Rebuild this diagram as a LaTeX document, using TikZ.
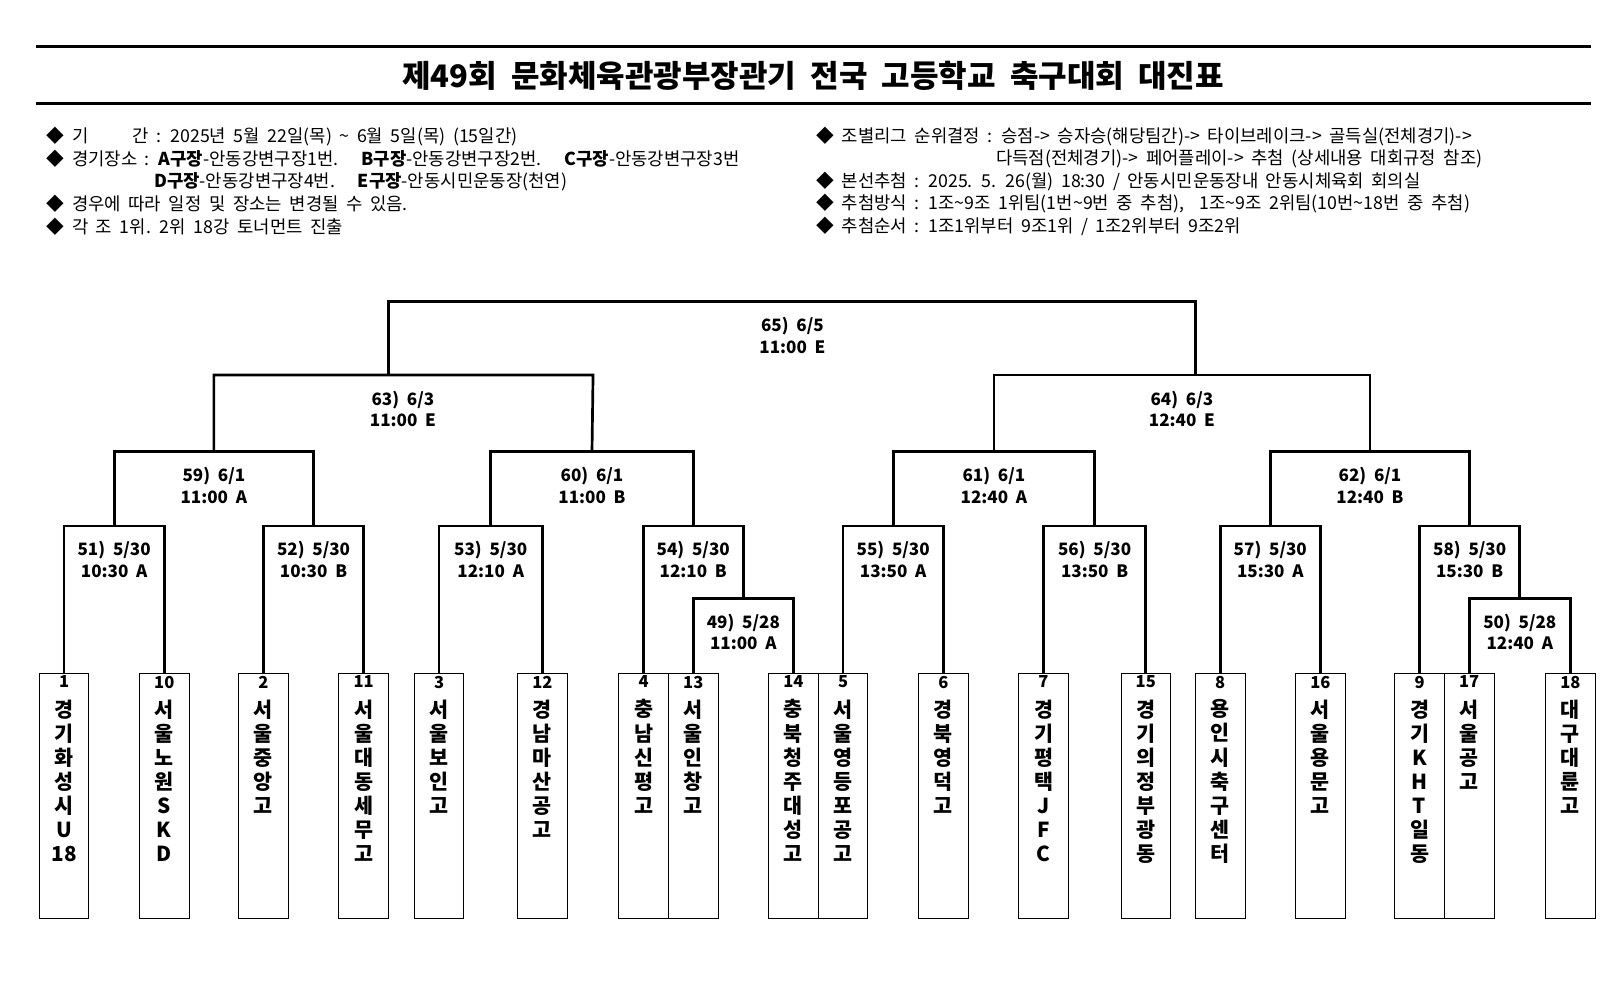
\documentclass[tikz,border=0pt]{standalone}
\usepackage{fontspec}
\setmainfont{Noto Sans CJK KR}
\newfontfamily\infofont[WordSpace=1.9]{Noto Sans CJK KR}
\begin{document}
\begin{tikzpicture}[x=1pt,y=-1pt,
  team/.style={draw,line width=0.8pt,minimum width=48pt,minimum height=238pt,anchor=north,inner sep=0pt},
  num/.style={anchor=north,font=\fontsize{16}{16}\selectfont\bfseries,inner sep=0pt},
  tname/.style={anchor=north,font=\fontsize{20}{23.3}\selectfont\bfseries,align=center,inner sep=0pt},
  br/.style={line width=2.6pt},
  lab/.style={font=\fontsize{16.5}{21}\selectfont\bfseries,align=center,anchor=north,inner sep=0pt},
  info/.style={anchor=west,font=\infofont\fontsize{17.2}{16}\selectfont,inner sep=0pt}]
\useasboundingbox (0,0) rectangle (1568,952);
\fill[white] (0,0) rectangle (1568,952);
% title
\coordinate (tl1) at (35,45); \coordinate (tr1) at (1540,45);
\coordinate (tl2) at (35,100); \coordinate (tr2) at (1540,100);
\draw[line width=2.8pt] (tl1) -- (tr1);
\draw[line width=2.8pt] (tl2) -- (tr2);
\node[font=\fontsize{30}{30}\selectfont\bfseries] (title) at (787,73) {제49회 \ 문화체육관광부장관기 \ 전국 \ 고등학교 \ 축구대회 \ 대진표};
% info
\node[info] (i1) at (45,132) {◆ 기\hspace{2.5em}간 : 2025년 5월 22일(목) \textasciitilde{} 6월 5일(목) (15일간)};
\node[info] (i2) at (45,154) {◆ 경기장소 : \textbf{A구장}-안동강변구장1번.\ \ \ \textbf{B구장}-안동강변구장2번.\ \ \ \textbf{C구장}-안동강변구장3번};
\node[info] (i3) at (149,176) {\textbf{D구장}-안동강변구장4번.\ \ \ \textbf{E구장}-안동시민운동장(천연)};
\node[info] (i4) at (45,197) {◆ 경우에 따라 일정 및 장소는 변경될 수 있음.};
\node[info] (i5) at (45,219) {◆ 각 조 1위. 2위 18강 토너먼트 진출};
\node[info] (j1) at (790,132) {◆ 조별리그 순위결정 : 승점-> 승자승(해당팀간)-> 타이브레이크-> 골득실(전체경기)->};
\node[info] (j2) at (964,154) {다득점(전체경기)-> 페어플레이-> 추첨 (상세내용 대회규정 참조)};
\node[info] (j3) at (790,176) {◆ 본선추첨 : 2025. 5. 26(월) 18:30 / 안동시민운동장내 안동시체육회 회의실};
\node[info] (j4) at (790,197) {◆ 추첨방식 : 1조\textasciitilde9조 1위팀(1번\textasciitilde9번 중 추첨),\ \ 1조\textasciitilde9조 2위팀(10번\textasciitilde18번 중 추첨)};
\node[info] (j5) at (790,219) {◆ 추첨순서 : 1조1위부터 9조1위 / 1조2위부터 9조2위};
% teams
\foreach \n/\x/\t in {
 1/62/{경\\기\\화\\성\\시\\U\\18},
 10/159/{서\\울\\노\\원\\S\\K\\D},
 2/255/{서\\울\\중\\앙\\고},
 11/352/{서\\울\\대\\동\\세\\무\\고},
 3/425/{서\\울\\보\\인\\고},
 12/525/{경\\남\\마\\산\\공\\고},
 4/623/{충\\남\\신\\평\\고},
 13/671/{서\\울\\인\\창\\고},
 14/768/{충\\북\\청\\주\\대\\성\\고},
 5/816/{서\\울\\영\\등\\포\\공\\고},
 6/913/{경\\북\\영\\덕\\고},
 7/1010/{경\\기\\평\\택\\J\\F\\C},
 15/1109/{경\\기\\의\\정\\부\\광\\동},
 8/1181/{용\\인\\시\\축\\구\\센\\터},
 16/1278/{서\\울\\용\\문\\고},
 9/1374/{경\\기\\K\\H\\T\\일\\동},
 17/1422/{서\\울\\공\\고},
 18/1520/{대\\구\\대\\륜\\고}}{
 \node[team] (t\n) at (\x,651) {};
 \node[num] (n\n) at (\x,654) {\n};
 \node[tname] (s\n) at (\x,677) {\t};
}
% bracket coordinates
\coordinate (m49) at (719.5,579); \coordinate (m50) at (1471,579);
\coordinate (m51) at (110.5,509); \coordinate (m52) at (303.5,509);
\coordinate (m53) at (475,509);   \coordinate (m54) at (671,509);
\coordinate (m55) at (864.5,509); \coordinate (m56) at (1059.5,509);
\coordinate (m57) at (1229.5,509);\coordinate (m58) at (1422.5,509);
\coordinate (m59) at (207,437);   \coordinate (m60) at (573,437);
\coordinate (m61) at (962,437);   \coordinate (m62) at (1326,437);
\coordinate (m63) at (376,363);   \coordinate (m64) at (1157,363);
\coordinate (m65) at (767,292);
\draw[br] (t13.north) |- (m49) -| (t14.north);
\draw[br] (t17.north) |- (m50) -| (t18.north);
\draw[br] (t1.north) |- (m51) -| (t10.north);
\draw[br] (t2.north) |- (m52) -| (t11.north);
\draw[br] (t3.north) |- (m53) -| (t12.north);
\draw[br] (t4.north) |- (m54) -| (m49);
\draw[br] (t5.north) |- (m55) -| (t6.north);
\draw[br] (t7.north) |- (m56) -| (t15.north);
\draw[br] (t8.north) |- (m57) -| (t16.north);
\draw[br] (t9.north) |- (m58) -| (m50);
\draw[br] (m51) |- (m59) -| (m52);
\draw[br] (m53) |- (m60) -| (m54);
\draw[br] (m55) |- (m61) -| (m56);
\draw[br] (m57) |- (m62) -| (m58);
\draw[br] (m59) |- (207,363) -- (574,363) -- (m60);
\draw[br] (m61) |- (962,363) -- (1326,363) -- (m62);
\draw[br] (m63) |- (m65) -| (m64);
% labels
\foreach \m/\x/\y/\a/\b in {
 49/719.5/579/{49) \ 5/28}/{11:00 \ A},
 50/1471/579/{50) \ 5/28}/{12:40 \ A},
 51/110.5/509/{51) \ 5/30}/{10:30 \ A},
 52/303.5/509/{52) \ 5/30}/{10:30 \ B},
 53/475/509/{53) \ 5/30}/{12:10 \ A},
 54/671/509/{54) \ 5/30}/{12:10 \ B},
 55/864.5/509/{55) \ 5/30}/{13:50 \ A},
 56/1059.5/509/{56) \ 5/30}/{13:50 \ B},
 57/1229.5/509/{57) \ 5/30}/{15:30 \ A},
 58/1422.5/509/{58) \ 5/30}/{15:30 \ B},
 59/207/437/{59) \ 6/1}/{11:00 \ A},
 60/573/437/{60) \ 6/1}/{11:00 \ B},
 61/962/437/{61) \ 6/1}/{12:40 \ A},
 62/1326/437/{62) \ 6/1}/{12:40 \ B},
 63/390/363/{63) \ 6/3}/{11:00 \ E},
 64/1144/363/{64) \ 6/3}/{12:40 \ E},
 65/767/292/{65) \ 6/5}/{11:00 \ E}}{
 \node[lab] (l\m) at (\x,\y+15) {\a\\\b};
}
\end{tikzpicture}
\end{document}
